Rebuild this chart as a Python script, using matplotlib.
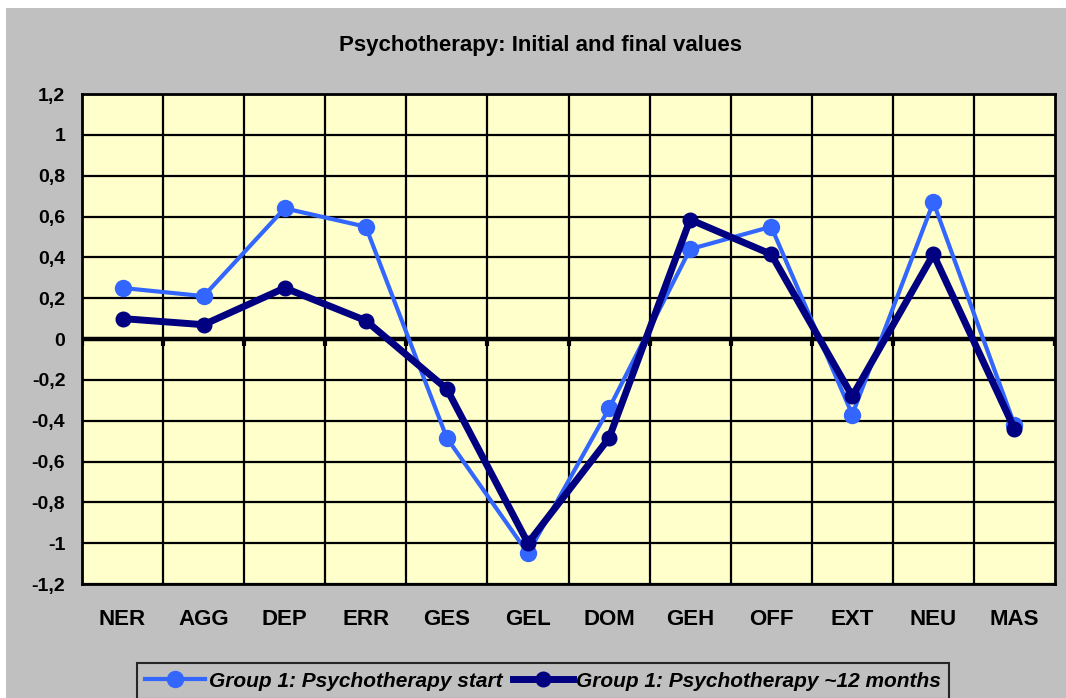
import matplotlib.pyplot as plt
from matplotlib.patches import Rectangle
from matplotlib.ticker import FixedLocator

plt.rcParams['font.family'] = ['Liberation Sans', 'DejaVu Sans']

categories = ['NER', 'AGG', 'DEP', 'ERR', 'GES', 'GEL', 'DOM', 'GEH', 'OFF', 'EXT', 'NEU', 'MAS']
start_vals = [0.25, 0.21, 0.64, 0.55, -0.485, -1.05, -0.34, 0.44, 0.55, -0.37, 0.67, -0.42]
month12_vals = [0.10, 0.07, 0.25, 0.09, -0.245, -1.0, -0.485, 0.585, 0.415, -0.28, 0.415, -0.44]
yticks = [-1.2, -1.0, -0.8, -0.6, -0.4, -0.2, 0, 0.2, 0.4, 0.6, 0.8, 1.0, 1.2]
ylabels = ['-1,2', '-1', '-0,8', '-0,6', '-0,4', '-0,2', '0', '0,2', '0,4', '0,6', '0,8', '1', '1,2']

fig = plt.figure(figsize=(10.66, 6.98), dpi=100, facecolor='white')
fig.patches.append(Rectangle((6 / 1066, 0), 1 - 6 / 1066, 1 - 8 / 698,
                             transform=fig.transFigure, facecolor='#C0C0C0',
                             edgecolor='none', zorder=-10))

ax = fig.add_axes([82 / 1066, 1 - 584 / 698, (1055 - 82) / 1066, (584 - 94) / 698])
ax.set_facecolor('#FFFFCC')

x = list(range(len(categories)))
ax.set_xlim(-0.5, len(categories) - 0.5)
ax.set_ylim(-1.2, 1.2)

# grid: horizontal every 0.2, vertical between categories
for yv in yticks:
    ax.axhline(yv, color='black', lw=1.6, zorder=1)
for b in range(1, len(categories)):
    ax.axvline(b - 0.5, color='black', lw=1.6, zorder=1)
ax.axhline(0, color='black', lw=3.2, zorder=2)
for b in range(len(categories) + 1):
    ax.plot([b - 0.5, b - 0.5], [0, -0.035], color='black', lw=3, zorder=2, solid_capstyle='butt')

ax.plot(x, start_vals, color='#3366FF', lw=3, marker='o', ms=11.5,
        label='Group 1: Psychotherapy start', zorder=3)
ax.plot(x, month12_vals, color='#000080', lw=5, marker='o', ms=10.5,
        label='Group 1: Psychotherapy ~12 months', zorder=4)

ax.yaxis.set_major_locator(FixedLocator(yticks))
ax.set_yticklabels(ylabels, fontsize=14, fontweight='bold')
ax.set_xticks(x)
ax.set_xticklabels(categories, fontsize=16, fontweight='bold')
ax.tick_params(axis='y', length=0, pad=12)
ax.tick_params(axis='x', length=0, pad=18)
for s in ax.spines.values():
    s.set_linewidth(2)
    s.set_color('black')

fig.text(0.507, 1 - 46 / 698, 'Psychotherapy: Initial and final values',
         ha='center', va='center', fontsize=16, fontweight='bold')

leg = fig.legend(loc='upper center', bbox_to_anchor=(543 / 1066, 1 - 653 / 698), ncol=2,
                 frameon=True, fancybox=False, handlelength=2.9, handletextpad=0.15,
                 columnspacing=0.5, borderpad=0.4, markerscale=1.0,
                 prop={'size': 15, 'weight': 'bold', 'style': 'italic'})
leg.get_frame().set_edgecolor('black')
leg.get_frame().set_linewidth(1.5)
leg.get_frame().set_facecolor('#C0C0C0')

fig.savefig('out.png', dpi=100, facecolor=fig.get_facecolor())
